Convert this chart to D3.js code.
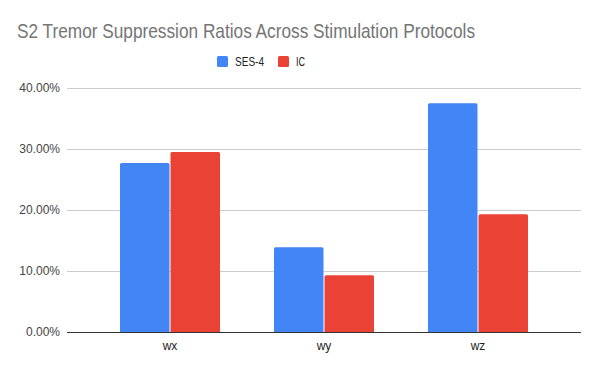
<!DOCTYPE html>
<html>
<head>
<meta charset="utf-8">
<script src="https://cdn.jsdelivr.net/npm/d3@7"></script>
<style>
  body { margin: 0; background: #fff; }
  svg { font-family: "Liberation Sans", Arial, sans-serif; }
</style>
</head>
<body>
<div id="chart"></div>
<script>
const categories = ["wx", "wy", "wz"];
const seriesNames = ["SES-4", "IC"];
const ses4Values = [0.277, 0.139, 0.375];
const icValues = [0.295, 0.093, 0.193];
const yTicks = [0, 0.1, 0.2, 0.3, 0.4];
const colors = ["#4285f4", "#ea4335"];

const width = 600, height = 371;
const gridLeft = 67, gridRight = 581;

const svg = d3.select("#chart").append("svg")
    .attr("width", width)
    .attr("height", height);

svg.append("rect").attr("width", width).attr("height", height).attr("fill", "#fff");

// Title (source looks horizontally squeezed, so fit it to the measured width)
svg.append("text")
    .attr("x", 17)
    .attr("y", 38)
    .attr("font-size", 21)
    .attr("fill", "#757575")
    .attr("textLength", 458)
    .attr("lengthAdjust", "spacingAndGlyphs")
    .text("S2 Tremor Suppression Ratios Across Stimulation Protocols");

// Scales
const y = d3.scaleLinear().domain([0, 0.4]).range([332, 88]);
const x = d3.scaleBand().domain(categories).range([93, 555]);
const xInner = d3.scaleBand().domain(seriesNames).range([0, 100]).paddingInner(0.02);

// Gridlines
svg.append("g")
    .selectAll("line")
    .data(yTicks.filter(d => d > 0))
    .join("line")
    .attr("x1", gridLeft)
    .attr("x2", gridRight)
    .attr("y1", d => Math.round(y(d)) + 0.5)
    .attr("y2", d => Math.round(y(d)) + 0.5)
    .attr("stroke", "#cccccc")
    .attr("stroke-width", 1);

// Y tick labels
svg.append("g")
    .selectAll("text")
    .data(yTicks)
    .join("text")
    .attr("x", 60)
    .attr("y", d => y(d) + 4)
    .attr("text-anchor", "end")
    .attr("font-size", 12)
    .attr("fill", "#444")
    .text(d => d3.format(".2%")(d));

// Bars
const rows = categories.map((c, i) => ({ cat: c, vals: [ses4Values[i], icValues[i]] }));
const groups = svg.append("g")
    .selectAll("g")
    .data(rows)
    .join("g")
    .attr("transform", d => `translate(${x(d.cat) + (x.bandwidth() - 100) / 2},0)`);

groups.selectAll("path")
    .data(d => d.vals.map((v, j) => ({ name: seriesNames[j], v: v, j: j })))
    .join("path")
    .attr("fill", d => colors[d.j])
    .attr("d", d => {
        const x0 = xInner(d.name), w = xInner.bandwidth();
        const top = y(d.v), bot = y(0), r = 1.5;
        return `M${x0},${bot}V${top + r}Q${x0},${top} ${x0 + r},${top}H${x0 + w - r}Q${x0 + w},${top} ${x0 + w},${top + r}V${bot}Z`;
    });

// Baseline
svg.append("line")
    .attr("x1", gridLeft)
    .attr("x2", gridRight)
    .attr("y1", Math.round(y(0)) + 0.5)
    .attr("y2", Math.round(y(0)) + 0.5)
    .attr("stroke", "#333")
    .attr("stroke-width", 1);

// X labels
svg.append("g")
    .selectAll("text")
    .data(categories)
    .join("text")
    .attr("x", d => x(d) + x.bandwidth() / 2)
    .attr("y", 350)
    .attr("text-anchor", "middle")
    .attr("font-size", 12)
    .attr("fill", "#222")
    .text(d => d);

// Legend
const legendItems = [
    { name: "SES-4", x: 217, len: 29 },
    { name: "IC", x: 278, len: 9 }
];
const legend = svg.append("g")
    .selectAll("g")
    .data(legendItems)
    .join("g")
    .attr("transform", d => `translate(${d.x},56)`);
legend.append("rect")
    .attr("width", 11).attr("height", 11).attr("rx", 1.5)
    .attr("fill", (d, i) => colors[i]);
legend.append("text")
    .attr("x", 18).attr("y", 10)
    .attr("font-size", 12)
    .attr("fill", "#222")
    .attr("textLength", d => d.len)
    .attr("lengthAdjust", "spacingAndGlyphs")
    .text(d => d.name);
</script>
</body>
</html>
